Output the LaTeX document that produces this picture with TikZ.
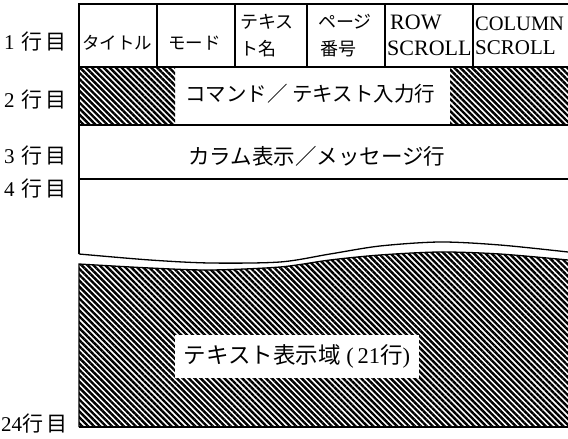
\documentclass[tikz,border=0pt]{standalone}
\usepackage{fontspec}
\setmainfont{Liberation Serif}
\newfontfamily\jp{Noto Sans CJK JP}
\usetikzlibrary{patterns.meta}
\begin{document}
\begin{tikzpicture}[x=1pt,y=-1pt,
  frame/.style={line width=1.3pt, black},
  hatch/.style={pattern={Lines[angle=-45,distance=4.2pt,line width=2.4pt]}, pattern color=black},
  lbl/.style={inner sep=0pt, font=\fontsize{21}{21}\selectfont},
  cellj/.style={inner sep=0pt, anchor=west, font=\jp\fontsize{18}{18}\selectfont},
  cellL/.style={inner sep=0pt, anchor=west, font=\fontsize{22}{22}\selectfont},
  band/.style={inner sep=0pt, font=\jp\fontsize{20.5}{20.5}\selectfont},
  boxtxt/.style={fill=white, inner sep=0pt, minimum width=244pt, minimum height=43pt, font=\fontsize{22.5}{22.5}\selectfont}]
\useasboundingbox (0,0) rectangle (568,439);
\fill[white] (0,0) rectangle (568,439);
% row 2 hatched blocks
\path[hatch] (79,67) rectangle (175,125);
\path[hatch] (450,67) rectangle (568,125);
% lower hatched text area
\path[hatch] (79,427) -- (79,264) -- plot[smooth] coordinates {(79,264) (150,268) (210,270) (280,267) (330,260) (380,255) (440,252) (500,254) (568,260)} -- (568,427) -- cycle;
\draw[frame] (79,427) -- (79,264) -- plot[smooth] coordinates {(79,264) (150,268) (210,270) (280,267) (330,260) (380,255) (440,252) (500,254) (568,260)};
\draw[frame] (79,427) -- (568,427);
% upper wave
\draw[frame] plot[smooth] coordinates {(79,254) (150,260) (210,263) (280,262) (330,254) (380,246) (440,242) (500,245) (568,252)};
% frame lines
\draw[frame] (79,254) -- (79,4) -- (568,4);
\draw[frame] (79,67) -- (568,67);
\draw[frame] (79,125) -- (568,125);
\draw[frame] (79,179) -- (568,179);
\foreach \xx in {157,235,307,385,473} \draw[frame] (\xx,4) -- (\xx,67);
% row labels
\node[lbl, anchor=west] (l1) at (4,42) {1\hspace{7pt}{\jp 行\hspace{3pt}目}};
\node[lbl, anchor=west] (l2) at (4,100) {2\hspace{7pt}{\jp 行\hspace{3pt}目}};
\node[lbl, anchor=west] (l3) at (4,156) {3\hspace{7pt}{\jp 行\hspace{3pt}目}};
\node[lbl, anchor=west] (l4) at (4,189) {4\hspace{7pt}{\jp 行\hspace{3pt}目}};
\node[lbl, anchor=south west] (l24) at (1,433) {24{\jp 行\hspace{3pt}目}};
% row 1 cells
\node[cellj, font=\jp\fontsize{17.5}{17.5}\selectfont] (title) at (82,43) {タイトル};
\node[cellj, font=\jp\fontsize{17.5}{17.5}\selectfont] (mode) at (168,43) {モード};
\node[cellj] (tn1) at (240,22) {テキス};
\node[cellj] (tn2) at (240,49) {ト名};
\node[cellj] (pg1) at (318,22) {ページ};
\node[cellj] (pg2) at (320,49) {番号};
\node[cellL] (rs1) at (390,22) {ROW};
\node[cellL] (rs2) at (387,48) {SCROLL};
\node[cellL, font=\fontsize{20.5}{20.5}\selectfont] (cs1) at (475,24) {COLUMN};
\node[cellL, font=\fontsize{21}{21}\selectfont] (cs2) at (475,48) {SCROLL};
% bands
\node[band, anchor=west] (cmd) at (185,94) {コマンド／ テキスト入力行};
\node[band, anchor=west, font=\jp\fontsize{21.5}{21.5}\selectfont] (col) at (188,156) {カラム表示／メッセージ行};
\node[boxtxt] (body) at (297,356) {{\jp テキスト表示域} ({\,}21{\jp 行})};
\end{tikzpicture}
\end{document}
